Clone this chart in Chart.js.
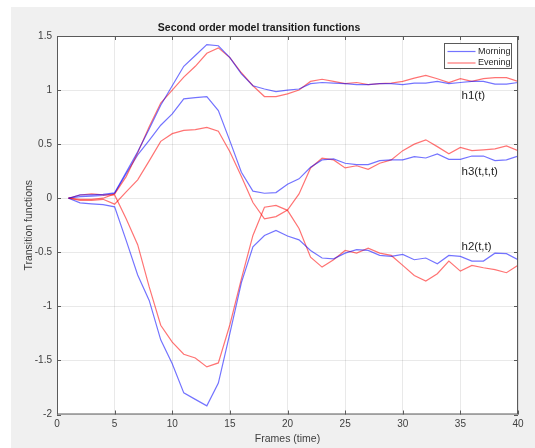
<!DOCTYPE html>
<html>
<head>
<meta charset="utf-8">
<script src="https://cdn.jsdelivr.net/npm/chart.js@4.4.0/dist/chart.umd.min.js"></script>
<style>
  html, body { margin: 0; padding: 0; background: #fff; }
  #wrap { position: relative; width: 535px; height: 448px; }
</style>
</head>
<body>
<div id="wrap"><canvas id="chartTrans"></canvas></div>
<script>
const frames = [1, 2, 3, 4, 5, 6, 7, 8, 9, 10, 11, 12, 13, 14, 15, 16, 17, 18, 19, 20,
  21, 22, 23, 24, 25, 26, 27, 28, 29, 30, 31, 32, 33, 34, 35, 36, 37, 38, 39, 40];

const h1Morning = [0, 0.03, 0.03, 0.035, 0.05, 0.24, 0.43, 0.64, 0.86, 1.04,
  1.22, 1.32, 1.42, 1.41, 1.30, 1.15, 1.04, 1.01, 0.985, 1.0,
  1.01, 1.06, 1.07, 1.065, 1.06, 1.05, 1.05, 1.06, 1.06, 1.05,
  1.065, 1.065, 1.08, 1.06, 1.07, 1.08, 1.08, 1.055, 1.055, 1.07];
const h1Evening = [0, -0.01, -0.01, 0.0, 0.04, 0.2, 0.42, 0.66, 0.88, 1.0,
  1.12, 1.22, 1.34, 1.39, 1.30, 1.16, 1.04, 0.94, 0.94, 0.965,
  1.0, 1.08, 1.10, 1.08, 1.06, 1.07, 1.05, 1.06, 1.065, 1.08,
  1.11, 1.135, 1.105, 1.07, 1.105, 1.08, 1.105, 1.115, 1.115, 1.08];
const h2Morning = [0, -0.043, -0.052, -0.06, -0.08, -0.39, -0.71, -0.945, -1.31, -1.53,
  -1.8, -1.86, -1.92, -1.71, -1.25, -0.78, -0.45, -0.345, -0.298, -0.35,
  -0.385, -0.483, -0.553, -0.56, -0.508, -0.476, -0.483, -0.529, -0.538, -0.52,
  -0.569, -0.553, -0.606, -0.529, -0.538, -0.581, -0.581, -0.508, -0.513, -0.569];
const h2Evening = [0, 0.03, 0.04, 0.03, 0.03, -0.19, -0.43, -0.82, -1.175, -1.33,
  -1.443, -1.477, -1.56, -1.523, -1.17, -0.745, -0.344, -0.083, -0.067, -0.112,
  -0.28, -0.545, -0.637, -0.569, -0.483, -0.508, -0.462, -0.508, -0.529, -0.621,
  -0.714, -0.766, -0.698, -0.581, -0.674, -0.621, -0.643, -0.661, -0.689, -0.621];
const h3Morning = [0, 0.015, 0.02, 0.025, 0.045, 0.226, 0.40, 0.535, 0.675, 0.78,
  0.918, 0.93, 0.94, 0.81, 0.53, 0.24, 0.065, 0.046, 0.052, 0.13,
  0.179, 0.286, 0.354, 0.363, 0.323, 0.311, 0.311, 0.348, 0.354, 0.354,
  0.385, 0.372, 0.41, 0.36, 0.36, 0.39, 0.39, 0.348, 0.354, 0.39];
const h3Evening = [0, -0.02, -0.02, -0.01, -0.055, 0.058, 0.17, 0.345, 0.526, 0.597,
  0.628, 0.634, 0.655, 0.62, 0.43, 0.2, -0.04, -0.19, -0.17, -0.11,
  0.04, 0.28, 0.37, 0.354, 0.28, 0.3, 0.268, 0.323, 0.354, 0.44,
  0.5, 0.54, 0.477, 0.41, 0.47, 0.44, 0.447, 0.456, 0.484, 0.44];

const seriesNames = ["Morning", "Evening"];
const curveLabels = [
  { text: "h1(t)", frame: 35.1, value: 0.948 },
  { text: "h3(t,t,t)", frame: 35.1, value: 0.24 },
  { text: "h2(t,t)", frame: 35.1, value: -0.454 },
];

const blue = "rgba(0, 0, 255, 0.55)";
const red = "rgba(255, 0, 0, 0.55)";
const textColor = "#262626";
const fontFamily = "'Liberation Sans', Arial, sans-serif";

const toPoints = (values) => values.map((v, i) => ({ x: frames[i], y: v }));

const makeSet = (label, values, color) => ({
  label: label,
  data: toPoints(values),
  borderColor: color,
  backgroundColor: color,
  borderWidth: 1.2,
  pointRadius: 0,
  tension: 0,
  fill: false,
});

// matlab-like frame: grey figure, white axes, box, inward ticks, legend, text labels
const matlabLook = {
  id: "matlabLook",
  beforeDraw(chart) {
    const { ctx, chartArea: a } = chart;
    ctx.save();
    ctx.fillStyle = "#f0f0f0";
    ctx.fillRect(11, 7, chart.width - 11, chart.height - 7);
    ctx.fillStyle = "#ffffff";
    ctx.fillRect(a.left, a.top, a.right - a.left, a.bottom - a.top);
    ctx.restore();
  },
  afterDatasetsDraw(chart) {
    const { ctx, chartArea: a, scales } = chart;
    ctx.save();
    ctx.strokeStyle = "#5a5a5a";
    ctx.lineWidth = 1;
    ctx.strokeRect(a.left + 0.5, a.top + 0.5, a.right - a.left - 1, a.bottom - a.top - 1);

    // inward tick marks
    const tl = 4;
    ctx.beginPath();
    scales.x.ticks.forEach((t) => {
      const px = Math.round(scales.x.getPixelForValue(t.value)) + 0.5;
      ctx.moveTo(px, a.bottom); ctx.lineTo(px, a.bottom - tl);
      ctx.moveTo(px, a.top); ctx.lineTo(px, a.top + tl);
    });
    scales.y.ticks.forEach((t) => {
      const py = Math.round(scales.y.getPixelForValue(t.value)) + 0.5;
      ctx.moveTo(a.left, py); ctx.lineTo(a.left + tl, py);
      ctx.moveTo(a.right, py); ctx.lineTo(a.right - tl, py);
    });
    ctx.stroke();

    // curve labels
    ctx.fillStyle = textColor;
    ctx.font = "11.5px " + fontFamily;
    ctx.textAlign = "left";
    ctx.textBaseline = "middle";
    curveLabels.forEach((l) => {
      ctx.fillText(l.text, scales.x.getPixelForValue(l.frame), scales.y.getPixelForValue(l.value));
    });

    // legend box in the top right corner
    const bw = 67, bh = 25;
    const bx = Math.round(a.right - 7.5 - bw) + 0.5;
    const by = Math.round(a.top + 6.5) + 0.5;
    ctx.fillStyle = "#ffffff";
    ctx.fillRect(bx, by, bw, bh);
    ctx.strokeStyle = "#5a5a5a";
    ctx.strokeRect(bx, by, bw, bh);
    const colors = [blue, red];
    ctx.font = "9px " + fontFamily;
    seriesNames.forEach((name, i) => {
      const ly = by + 8 + i * 11.5;
      ctx.strokeStyle = colors[i];
      ctx.lineWidth = 1.2;
      ctx.beginPath();
      ctx.moveTo(bx + 3, ly);
      ctx.lineTo(bx + 31, ly);
      ctx.stroke();
      ctx.fillStyle = textColor;
      ctx.fillText(name, bx + 33.5, ly);
    });
    ctx.restore();
  },
};

const plainNumber = (value) => String(Number(value.toFixed(2)));

const chartTrans = new Chart(document.querySelector("#chartTrans"), {
  type: "line",
  data: {
    datasets: [
      makeSet("Morning", h1Morning, blue),
      makeSet("Evening", h1Evening, red),
      makeSet("Morning", h2Morning, blue),
      makeSet("Evening", h2Evening, red),
      makeSet("Morning", h3Morning, blue),
      makeSet("Evening", h3Evening, red),
    ],
  },
  options: {
    responsive: true,
    maintainAspectRatio: false,
    animation: false,
    layout: { padding: { top: 0, right: 17, bottom: 0, left: 0 } },
    plugins: {
      legend: { display: false },
      tooltip: { enabled: false },
      title: {
        display: true,
        text: "Second order model transition functions",
        color: "#1a1a1a",
        font: { family: fontFamily, size: 10.5, weight: "bold" },
        padding: { top: 22, bottom: 1.4 },
      },
    },
    scales: {
      x: {
        type: "linear",
        min: 0,
        max: 40,
        afterFit: (scale) => { scale.height = 33.5; },
        ticks: { stepSize: 5, color: "#404040", padding: 4, callback: plainNumber, font: { family: fontFamily, size: 10 } },
        grid: { color: "rgba(38, 38, 38, 0.1)", drawTicks: false },
        border: { display: false },
        title: {
          display: true,
          text: "Frames (time)",
          color: "#404040",
          font: { family: fontFamily, size: 10.5 },
          padding: { top: 0, bottom: 3 },
        },
      },
      y: {
        min: -2,
        max: 1.5,
        afterFit: (scale) => { scale.width = 57; },
        ticks: { stepSize: 0.5, color: "#404040", padding: 5, callback: plainNumber, font: { family: fontFamily, size: 10 } },
        grid: { color: "rgba(38, 38, 38, 0.1)", drawTicks: false },
        border: { display: false },
        title: {
          display: true,
          text: "Transition functions",
          color: "#404040",
          font: { family: fontFamily, size: 10.5 },
          padding: { top: 23, bottom: 0 },
        },
      },
    },
  },
  plugins: [matlabLook],
});
</script>
</body>
</html>
